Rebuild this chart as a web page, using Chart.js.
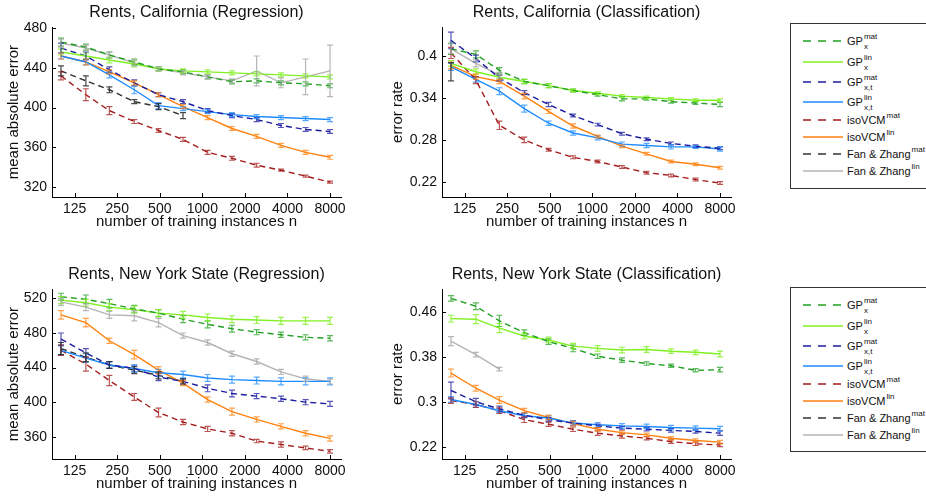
<!DOCTYPE html>
<html>
<head>
<meta charset="utf-8">
<title>Rents – GP / isoVCM / Fan &amp; Zhang</title>
<script src="https://cdn.jsdelivr.net/npm/chart.js@4.4.0/dist/chart.umd.min.js"></script>
<style>
  html, body { margin: 0; padding: 0; background: #fff; width: 926px; height: 498px; overflow: hidden; }
  body { position: relative; font-family: 'Liberation Sans', Arial, Helvetica, sans-serif; color: #111; }
  .panel { position: absolute; }
  .legend { position: absolute; left: 790px; width: 136px; border: 1px solid #333; border-right: none; background: #fff; box-sizing: border-box; }
  .lg-line { position: absolute; left: 12px; }
  .lg-text { position: absolute; left: 56px; font-size: 11px; line-height: 14px; white-space: nowrap; }
  .scripts { position: relative; display: inline-block; width: 20px; height: 14px; vertical-align: top; }
  .sup { position: absolute; left: 1px; top: -2px; font-size: 8px; line-height: 10px; }
  .sub { position: absolute; left: 1px; top: 8px; font-size: 8px; line-height: 10px; }
</style>
</head>
<body>

<div class="panel" id="p-caReg"><canvas id="caReg"></canvas></div>
<div class="panel" id="p-caCls"><canvas id="caCls"></canvas></div>
<div class="panel" id="p-nyReg"><canvas id="nyReg"></canvas></div>
<div class="panel" id="p-nyCls"><canvas id="nyCls"></canvas></div>
<div class="legend" id="legendTop" style="top:23px;height:166px"></div>
<div class="legend" id="legendBottom" style="top:287px;height:165px"></div>

<script>
/* ============================================================
   DATA
   ============================================================ */

// number of training instances (x)
const trainSizes = [100, 150, 220, 330, 490, 730, 1090, 1620, 2420, 3600, 5370, 8000];
const xTicks = [125, 250, 500, 1000, 2000, 4000, 8000];

// series order: GPx mat, GPx lin, GPx,t mat, GPx,t lin, isoVCM mat, isoVCM lin, Fan&Zhang mat, Fan&Zhang lin
const caRegMean = [
  [466, 461, 453, 446, 439, 436, 431, 426, 427, 425, 424, 422],
  [456, 452, 448, 444, 439, 437, 436, 435, 434, 433, 432, 431],
  [460, 452, 438, 425, 413, 406, 397, 392, 388, 382, 378, 376],
  [452, 446, 433, 418, 402, 399, 396, 393, 391, 390, 389, 388],
  [432, 413, 397, 386, 377, 368, 355, 349, 342, 337, 331, 325],
  [452, 446, 436, 425, 413, 401, 390, 379, 371, 362, 355, 350],
  [437, 427, 418, 406, 401, 392, null, null, null, null, null, null],
  [465, 460, 453, 445, 439, 435, 431, 427, 437, 425, 431, 437]
];
const caRegErr = [
  [4, 3, 3, 3, 2, 2, 2, 2, 2, 2, 2, 2],
  [3, 3, 3, 3, 2, 2, 2, 2, 2, 2, 2, 2],
  [5, 4, 3, 3, 2, 2, 2, 2, 2, 2, 2, 2],
  [3, 3, 3, 4, 3, 2, 2, 2, 2, 2, 2, 2],
  [4, 6, 4, 2, 2, 2, 2, 2, 2, 1, 1, 1],
  [3, 3, 2, 2, 2, 2, 2, 2, 2, 2, 2, 2],
  [5, 5, 3, 2, 3, 3, null, null, null, null, null, null],
  [4, 3, 3, 3, 2, 2, 2, 2, 15, 5, 18, 26]
];
const caRegYTicks = [320, 360, 400, 440, 480];

const caClsMean = [
  [0.411, 0.403, 0.380, 0.364, 0.358, 0.351, 0.345, 0.339, 0.339, 0.335, 0.333, 0.331],
  [0.390, 0.378, 0.370, 0.364, 0.358, 0.351, 0.347, 0.343, 0.341, 0.339, 0.337, 0.337],
  [0.423, 0.397, 0.369, 0.348, 0.331, 0.315, 0.302, 0.289, 0.281, 0.275, 0.271, 0.268],
  [0.385, 0.367, 0.350, 0.325, 0.304, 0.290, 0.283, 0.274, 0.272, 0.270, 0.270, 0.267],
  [0.405, 0.366, 0.301, 0.280, 0.266, 0.255, 0.249, 0.241, 0.233, 0.229, 0.223, 0.218],
  [0.387, 0.371, 0.364, 0.343, 0.321, 0.300, 0.285, 0.271, 0.260, 0.249, 0.245, 0.240],
  [0.378, null, null, null, null, null, null, null, null, null, null, null],
  [0.411, 0.390, 0.373, null, null, null, null, null, null, null, null, null]
];
const caClsErr = [
  [0.008, 0.005, 0.004, 0.003, 0.003, 0.002, 0.002, 0.003, 0.002, 0.002, 0.002, 0.003],
  [0.004, 0.004, 0.003, 0.003, 0.003, 0.002, 0.002, 0.002, 0.002, 0.002, 0.002, 0.002],
  [0.012, 0.005, 0.004, 0.003, 0.003, 0.002, 0.002, 0.002, 0.002, 0.002, 0.002, 0.002],
  [0.005, 0.004, 0.005, 0.005, 0.003, 0.003, 0.003, 0.003, 0.003, 0.003, 0.002, 0.003],
  [0.008, 0.005, 0.006, 0.004, 0.002, 0.002, 0.002, 0.002, 0.002, 0.002, 0.002, 0.002],
  [0.005, 0.004, 0.003, 0.004, 0.003, 0.003, 0.002, 0.002, 0.002, 0.002, 0.002, 0.002],
  [0.013, null, null, null, null, null, null, null, null, null, null, null],
  [0.007, 0.005, 0.004, null, null, null, null, null, null, null, null, null]
];
const caClsYTicks = [0.22, 0.28, 0.34, 0.4];

const nyRegMean = [
  [522, 519, 514, 508, 503, 496, 490, 485, 481, 478, 475, 474],
  [518, 515, 510, 507, 503, 501, 498, 496, 495, 494, 494, 494],
  [473, 457, 443, 439, 429, 424, 416, 410, 407, 404, 400, 398],
  [460, 451, 443, 439, 434, 432, 428, 426, 425, 424, 424, 424],
  [460, 444, 425, 406, 388, 377, 369, 364, 355, 351, 347, 343],
  [501, 492, 471, 455, 437, 422, 403, 389, 380, 372, 364, 358],
  [462, 452, 443, 437, 431, 424, null, null, null, null, null, null],
  [516, 510, 501, 500, 492, 477, 469, 456, 447, 435, 427, 424]
];
const nyRegErr = [
  [4, 5, 5, 4, 4, 4, 4, 4, 3, 3, 3, 3],
  [4, 4, 4, 4, 4, 4, 4, 4, 4, 4, 4, 4],
  [7, 5, 4, 4, 4, 3, 4, 4, 3, 3, 3, 3],
  [5, 5, 4, 4, 4, 4, 4, 4, 4, 4, 4, 4],
  [6, 8, 6, 4, 5, 3, 3, 3, 2, 3, 2, 2],
  [5, 5, 3, 5, 4, 3, 3, 4, 3, 3, 3, 3],
  [7, 5, 4, 4, 4, 3, null, null, null, null, null, null],
  [4, 4, 4, 6, 5, 3, 3, 3, 3, 3, 3, 3]
];
const nyRegYTicks = [360, 400, 440, 480, 520];

const nyClsMean = [
  [0.485, 0.471, 0.445, 0.424, 0.408, 0.396, 0.382, 0.375, 0.369, 0.365, 0.357, 0.358],
  [0.449, 0.448, 0.432, 0.418, 0.411, 0.400, 0.396, 0.393, 0.394, 0.391, 0.389, 0.386],
  [0.321, 0.301, 0.288, 0.277, 0.269, 0.263, 0.258, 0.254, 0.252, 0.250, 0.248, 0.245],
  [0.305, 0.296, 0.285, 0.276, 0.272, 0.263, 0.260, 0.258, 0.257, 0.255, 0.254, 0.253],
  [0.303, 0.296, 0.285, 0.269, 0.261, 0.252, 0.245, 0.240, 0.236, 0.230, 0.226, 0.224],
  [0.352, 0.325, 0.304, 0.285, 0.273, 0.262, 0.252, 0.246, 0.242, 0.236, 0.232, 0.229],
  [null, null, null, null, null, null, null, null, null, null, null, null],
  [0.409, 0.385, 0.359, null, null, null, null, null, null, null, null, null]
];
const nyClsErr = [
  [0.005, 0.006, 0.010, 0.005, 0.005, 0.006, 0.004, 0.004, 0.003, 0.003, 0.003, 0.004],
  [0.006, 0.008, 0.008, 0.005, 0.005, 0.005, 0.005, 0.005, 0.005, 0.004, 0.004, 0.005],
  [0.015, 0.006, 0.005, 0.004, 0.004, 0.004, 0.003, 0.003, 0.003, 0.003, 0.003, 0.004],
  [0.005, 0.005, 0.004, 0.004, 0.004, 0.004, 0.004, 0.004, 0.004, 0.004, 0.004, 0.004],
  [0.005, 0.005, 0.005, 0.005, 0.004, 0.004, 0.004, 0.004, 0.003, 0.003, 0.003, 0.003],
  [0.007, 0.005, 0.006, 0.004, 0.004, 0.004, 0.003, 0.003, 0.003, 0.003, 0.003, 0.003],
  [null, null, null, null, null, null, null, null, null, null, null, null],
  [0.008, 0.004, 0.003, null, null, null, null, null, null, null, null, null]
];
const nyClsYTicks = [0.22, 0.3, 0.38, 0.46];

// legend text: base, superscript, subscript
const legendLabels = [
  ['GP', 'mat', 'x'], ['GP', 'lin', 'x'], ['GP', 'mat', 'x,t'], ['GP', 'lin', 'x,t'],
  ['isoVCM', 'mat', ''], ['isoVCM', 'lin', ''], ['Fan &amp; Zhang', 'mat', ''], ['Fan &amp; Zhang', 'lin', '']
];

/* ============================================================
   STYLE
   ============================================================ */

const seriesColors = ['#22a022', '#80f020', '#1c1ca0', '#1e8cff', '#a41c1c', '#ff8210', '#333333', '#b4b4b4'];
const errorColors = ['rgba(34,160,34,0.75)', 'rgba(128,240,32,0.8)', 'rgba(28,28,160,0.75)', 'rgba(30,140,255,0.75)',
                     'rgba(164,28,28,0.75)', 'rgba(255,130,16,0.75)', 'rgba(40,40,40,0.85)', 'rgba(170,170,170,0.85)'];
const seriesDashed = [true, false, true, false, true, false, true, false];
const FONT = "'Liberation Sans', Arial, Helvetica, sans-serif";
const X_MIN = 86.4, X_MAX = 9565;

// panel geometry (canvas box, y-axis band width)
const panels = [
  { id: 'caReg', left: 0,   top: 0,   width: 361, height: 233, yWidth: 52, title: 'Rents, California (Regression)',
    yTitle: 'mean absolute error', yMin: 310, yMax: 481, yTicks: caRegYTicks, mean: caRegMean, err: caRegErr },
  { id: 'caCls', left: 384, top: 0,   width: 365, height: 233, yWidth: 58, title: 'Rents, California (Classification)',
    yTitle: 'error rate', yMin: 0.198, yMax: 0.442, yTicks: caClsYTicks, mean: caClsMean, err: caClsErr },
  { id: 'nyReg', left: 0,   top: 262, width: 361, height: 233, yWidth: 52, title: 'Rents, New York State (Regression)',
    yTitle: 'mean absolute error', yMin: 334.2, yMax: 530.7, yTicks: nyRegYTicks, mean: nyRegMean, err: nyRegErr },
  { id: 'nyCls', left: 384, top: 262, width: 365, height: 233, yWidth: 58, title: 'Rents, New York State (Classification)',
    yTitle: 'error rate', yMin: 0.199, yMax: 0.5014, yTicks: nyClsYTicks, mean: nyClsMean, err: nyClsErr }
];

/* ============================================================
   PLUGINS
   ============================================================ */

// vertical error bars with caps
const errorBars = {
  id: 'errorBars',
  afterDatasetsDraw(chart) {
    const { ctx, scales: { x, y } } = chart;
    chart.data.datasets.forEach(ds => {
      if (!ds.errors) return;
      ctx.save();
      ctx.strokeStyle = ds.errorColor;
      ctx.lineWidth = 1.2;
      ds.data.forEach((p, j) => {
        const e = ds.errors[j];
        if (e == null) return;
        const px = x.getPixelForValue(p.x);
        const top = y.getPixelForValue(p.y + e);
        const bot = y.getPixelForValue(p.y - e);
        ctx.beginPath();
        ctx.moveTo(px, top); ctx.lineTo(px, bot);
        ctx.moveTo(px - 3, top); ctx.lineTo(px + 3, top);
        ctx.moveTo(px - 3, bot); ctx.lineTo(px + 3, bot);
        ctx.stroke();
      });
      ctx.restore();
    });
  }
};

// matlab style ticks pointing into the axes
const inwardTicks = {
  id: 'inwardTicks',
  afterDraw(chart) {
    const { ctx, chartArea, scales: { x, y } } = chart;
    ctx.save();
    ctx.strokeStyle = '#000';
    ctx.lineWidth = 1;
    ctx.beginPath();
    x.ticks.forEach(t => {
      const px = Math.round(x.getPixelForValue(t.value)) + 0.5;
      ctx.moveTo(px, chartArea.bottom); ctx.lineTo(px, chartArea.bottom - 4);
    });
    y.ticks.forEach(t => {
      const py = Math.round(y.getPixelForValue(t.value)) + 0.5;
      ctx.moveTo(chartArea.left, py); ctx.lineTo(chartArea.left + 4, py);
    });
    ctx.stroke();
    ctx.restore();
  }
};

/* ============================================================
   CHARTS
   ============================================================ */

function buildDatasets(mean, err) {
  return mean.map((vals, i) => {
    const data = [], errors = [];
    vals.forEach((v, j) => {
      if (v == null) return;
      data.push({ x: trainSizes[j], y: v });
      errors.push(err[i][j]);
    });
    return {
      data,
      errors,
      errorColor: errorColors[i],
      borderColor: seriesColors[i],
      borderWidth: 1.4,
      borderDash: seriesDashed[i] ? [6, 4] : [],
      pointRadius: 0,
      tension: 0,
      fill: false
    };
  });
}

function renderPanel(p) {
  const wrap = document.getElementById('p-' + p.id);
  wrap.style.left = p.left + 'px';
  wrap.style.top = p.top + 'px';
  const canvas = document.getElementById(p.id);
  canvas.width = p.width;
  canvas.height = p.height;

  new Chart(canvas.getContext('2d'), {
    type: 'line',
    data: { datasets: buildDatasets(p.mean, p.err) },
    options: {
      responsive: false,
      animation: false,
      devicePixelRatio: 1,
      layout: { padding: { left: 0, right: p.width - p.yWidth - 289, top: 0, bottom: 0 } },
      plugins: {
        legend: { display: false },
        tooltip: { enabled: false },
        title: {
          display: true,
          text: p.title,
          fullSize: false,
          color: '#111',
          font: { family: FONT, size: 16, weight: 'normal' },
          padding: { top: 3, bottom: 5 }
        }
      },
      scales: {
        x: {
          type: 'logarithmic',
          min: X_MIN,
          max: X_MAX,
          bounds: 'data',
          grid: { display: false, drawTicks: false },
          border: { display: true, color: '#000', width: 1 },
          afterBuildTicks: s => { s.ticks = xTicks.map(v => ({ value: v })); },
          afterFit: s => { s.height = 36; },
          ticks: {
            autoSkip: false, maxRotation: 0, padding: 4, color: '#111',
            font: { family: FONT, size: 14 },
            callback: v => String(v)
          },
          title: {
            display: true, text: 'number of training instances n', color: '#111',
            font: { family: FONT, size: 15 }, padding: { top: 0, bottom: 2 }
          }
        },
        y: {
          type: 'linear',
          min: p.yMin,
          max: p.yMax,
          grid: { display: false, drawTicks: false },
          border: { display: true, color: '#000', width: 1 },
          afterBuildTicks: s => { s.ticks = p.yTicks.map(v => ({ value: v })); },
          afterFit: s => { s.width = p.yWidth; },
          ticks: {
            padding: 5, color: '#111',
            font: { family: FONT, size: 14 },
            callback: v => String(v)
          },
          title: {
            display: true, text: p.yTitle, color: '#111',
            font: { family: FONT, size: 15 }, padding: { top: 5, bottom: 0 }
          }
        }
      }
    },
    plugins: [errorBars, inwardTicks]
  });
}

/* ============================================================
   LEGENDS
   ============================================================ */

const legendRowY = [17, 38, 58, 78, 96, 113, 130, 147];

function renderLegend(el) {
  el.innerHTML = legendLabels.map((lab, i) => {
    const [base, sup, sub] = lab;
    const y = legendRowY[i];
    const dash = seriesDashed[i] ? 'stroke-dasharray="8 7"' : '';
    return `
      <svg class="lg-line" style="top:${y - 2}px" width="40" height="4">
        <line x1="0" y1="2" x2="40" y2="2" stroke="${seriesColors[i]}" stroke-width="1.6" ${dash}/>
      </svg>
      <div class="lg-text" style="top:${y - 7}px">${base}<span class="scripts"><span class="sup">${sup}</span>${sub ? `<span class="sub">${sub}</span>` : ''}</span></div>`;
  }).join('');
}

panels.forEach(renderPanel);
renderLegend(document.getElementById('legendTop'));
renderLegend(document.getElementById('legendBottom'));
</script>
</body>
</html>
